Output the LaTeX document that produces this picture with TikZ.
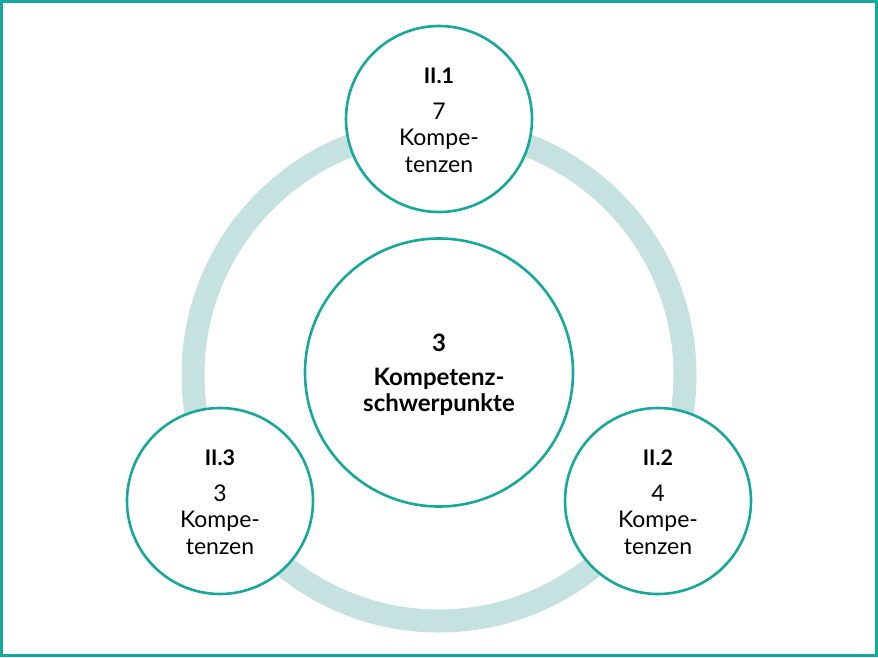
\documentclass[tikz,border=0pt]{standalone}
\usepackage{fontspec}
\setmainfont{Lato}
\definecolor{teal1}{HTML}{17A89C}
\definecolor{ringc}{HTML}{C5E2E0}
\begin{document}
\begin{tikzpicture}[x=1pt,y=-1pt,
  bub/.style={circle,draw=teal1,line width=2.6pt,fill=white,inner sep=0pt,minimum size=186pt},
  hub/.style={circle,draw=teal1,line width=2.6pt,fill=white,inner sep=0pt,minimum size=268pt},
  ttl/.style={anchor=base,font=\fontsize{21.5}{25}\selectfont\bfseries},
  htl/.style={anchor=base,font=\fontsize{24}{25}\selectfont\bfseries},
  txt/.style={anchor=base,font=\fontsize{23}{24}\selectfont},
]
\useasboundingbox (0,0) rectangle (878,657);
\draw[teal1,line width=3pt] (1.5,1.5) rectangle (876.5,655.5);
\draw[ringc,line width=23pt] (439,375) circle[radius=246];
\node[hub] (c) at (439,372.5) {};
\node[bub] (a) at (439,119) {};
\node[bub] (b) at (658,501) {};
\node[bub] (d) at (220,501) {};
% center text
\node[htl] (c1) at (439,351.7) {3};
\node[htl] (c2) at (439,385) {Kompetenz-};
\node[htl] (c3) at (439,411.7) {schwerpunkte};
% top
\node[ttl] (a1) at (439,83) {II.1};
\node[txt] (a2) at (439,119) {7};
\node[txt] (a3) at (439,145) {Kompe-};
\node[txt] (a4) at (439,172) {tenzen};
% right
\node[ttl] (b1) at (658,465) {II.2};
\node[txt] (b2) at (658,501) {4};
\node[txt] (b3) at (658,527) {Kompe-};
\node[txt] (b4) at (658,554) {tenzen};
% left
\node[ttl] (d1) at (220,465) {II.3};
\node[txt] (d2) at (220,501) {3};
\node[txt] (d3) at (220,527) {Kompe-};
\node[txt] (d4) at (220,554) {tenzen};
\end{tikzpicture}
\end{document}
